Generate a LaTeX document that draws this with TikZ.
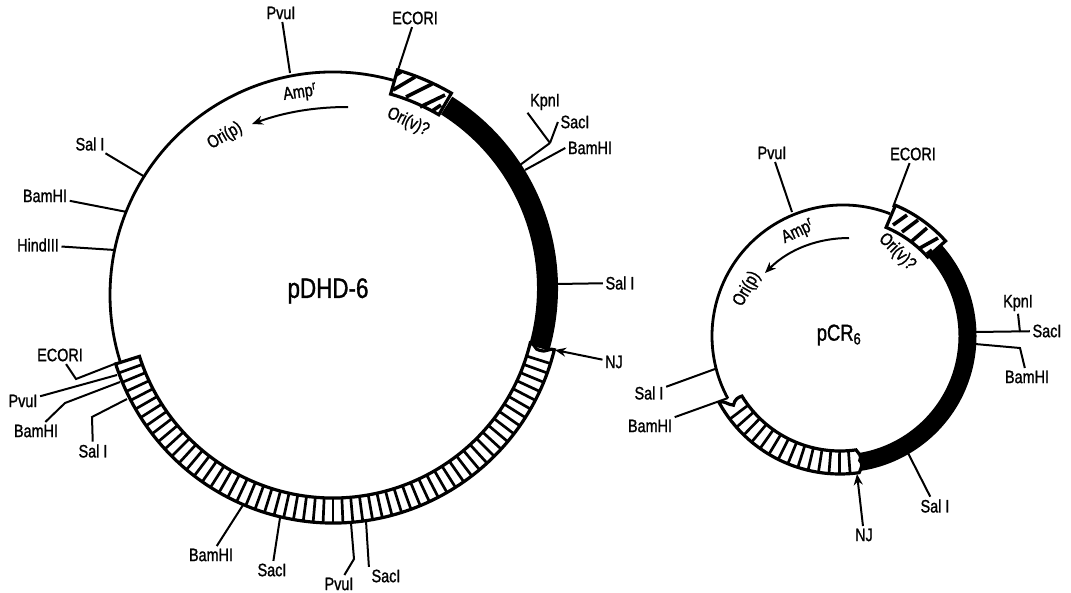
\documentclass[tikz,border=0pt]{standalone}
\usepackage{fontspec}
\setmainfont{Liberation Sans}[FakeStretch=0.8,FakeBold=1.2]
\usetikzlibrary{arrows.meta}
\tikzset{
  site/.style={inner sep=2.5pt,font=\fontsize{18}{18}\selectfont},
  oritext/.style={inner sep=1pt,font=\fontsize{18}{18}\selectfont},
  titletext/.style={inner sep=1pt},
  wire/.style={line width=2pt},
  ring/.style={line width=2.8pt},
  band/.style={line width=3.2pt,fill=white,line join=miter},
  rung/.style={line width=2.7pt},
  hatchline/.style={line width=3.6pt},
  pointer/.style={line width=2pt,-{Stealth[length=11pt,width=9pt]}}
}
\begin{document}
\begin{tikzpicture}[x=1pt,y=-1pt]
\useasboundingbox (0,0) rectangle (1071,592);
% large plasmid
\begin{scope}[shift={(333,295)}]
\draw[ring] (-74:223) arc[start angle=-74,end angle=-197.6,radius=223];
\end{scope}
\begin{scope}[shift={(331.5,288.3)}]
\draw[line width=21pt] (-57.8:216) arc[start angle=-57.8,end angle=16,radius=216];
\end{scope}
\begin{scope}[shift={(333,295)}]
% striped band, lower part
\draw[band] (162.4:203) arc[start angle=162.4,end angle=13.7,radius=203]
  .. controls (13.5:208) and (15.3:209) .. (15:214)
  .. controls (15.3:220) and (13.5:224) .. (13.9:228)
  arc[start angle=13.9,end angle=162.4,radius=228] -- cycle;
\foreach \a in {160,157.5,...,17} \draw[rung] (\a:203) -- (\a:228);
% hatched box at the top
\draw[band] (-74:209) arc[start angle=-74,end angle=-59.6,radius=209]
  -- (-59.6:234) arc[start angle=-59.6,end angle=-74,radius=234] -- cycle;
\end{scope}
\foreach \xa/\ya/\xb/\yb in {393/90/415/77,406/97/432/84,420/107/445/95,432/111/441/105,396/75/401/72}
  \draw[hatchline] (\xa,\ya) -- (\xb,\yb);
% small plasmid
\draw[ring] (843,336) ++(-69:131) arc[start angle=-69,end angle=-208.4,radius=131];
\begin{scope}[shift={(840,336)}]
\draw[line width=18pt,black] (-42:127.5) arc[start angle=-42,end angle=81,radius=127.5];
\draw[band] (148.5:115) arc[start angle=148.5,end angle=82,radius=115]
  .. controls (81:119) and (79.5:122) .. (81:126)
  .. controls (79.5:130) and (81:134) .. (82:138)
  arc[start angle=82,end angle=151,radius=138]
  .. controls (152:134) and (148:131) .. (147:127)
  .. controls (149:123) and (149:119) .. (148.5:115) -- cycle;
\foreach \a in {143,138.6,...,85} \draw[rung] (\a:115) -- (\a:138);
\draw[band] (-67:118) arc[start angle=-67,end angle=-42,radius=118]
  -- (-42:142) arc[start angle=-42,end angle=-67,radius=142] -- cycle;
\end{scope}
\foreach \xa/\ya/\xb/\yb in {893/225/907/215,902/232/918/220,912/241/927/228,920/248/938/238,927/254/932/250}
  \draw[hatchline] (\xa,\ya) -- (\xb,\yb);
% titles
\node[titletext,font=\fontsize{28}{28}\selectfont] (titleA) at (328,291) {pDHD-6};
\node[titletext,font=\fontsize{23}{23}\selectfont] (titleB) at (839,335) {pCR\textsubscript{6}};
% large plasmid, text on the ring
\node[oritext,rotate=8] (ampA) at (300,93) {Amp\textsuperscript{r}};
\node[oritext,rotate=30] (oripA) at (225,136) {Ori(p)};
\node[oritext,rotate=-25] (orivA) at (408,122) {Ori(v)?};
\coordinate (ampAs) at (348,107);
\coordinate (ampAe) at (252,124);
\draw[pointer] (ampAs) .. controls (315,107) and (285,112) .. (ampAe);
% small plasmid, text on the ring
\node[oritext,rotate=25] (ampB) at (798,232) {Amp\textsuperscript{r}};
\node[oritext,rotate=60] (oripB) at (747,289) {Ori(p)};
\node[oritext,rotate=-45] (orivB) at (897,252) {Ori(v)?};
\coordinate (ampBs) at (849,238);
\coordinate (ampBe) at (765,273);
\draw[pointer] (ampBs) .. controls (820,238) and (790,248) .. (ampBe);
% large plasmid, sites
\node[site] (pvuA) at (281,13) {PvuI};
\node[site] (ecoA) at (415,18) {ECORI};
\node[site] (kpnA) at (545,102) {KpnI};
\node[site] (sacA) at (575,122) {SacI};
\node[site] (bamA) at (590,148) {BamHI};
\node[site] (salA) at (620,283) {Sal I};
\node[site] (njA) at (614,362) {NJ};
\node[site] (salB) at (90,144) {Sal I};
\node[site] (bamB) at (45,196) {BamHI};
\node[site] (hinA) at (38,245) {HindIII};
\node[site] (ecoB) at (60,355) {ECORI};
\node[site] (pvuB) at (23,401) {PvuI};
\node[site] (bamC) at (36,431) {BamHI};
\node[site] (salC) at (93,451) {Sal I};
\node[site] (bamD) at (211,555) {BamHI};
\node[site] (sacB) at (272,570) {SacI};
\node[site] (pvuC) at (339,584) {PvuI};
\node[site] (sacC) at (386,576) {SacI};
\coordinate (pvuAe) at (290,73);
\coordinate (ecoAe) at (398,70);
\coordinate (kpnAe) at (550,143);
\coordinate (bamAj) at (520,165);
\coordinate (bamAe) at (525,170);
\coordinate (salAe) at (556,284);
\coordinate (njAe) at (555,350);
\coordinate (salBe) at (145,177);
\coordinate (bamBe) at (127,212);
\coordinate (hinAe) at (115,250);
\coordinate (ecoBb) at (76,379);
\coordinate (ecoBe) at (117,363);
\coordinate (pvuBe) at (117,375);
\coordinate (bamCb) at (65,403);
\coordinate (bamCe) at (120,382);
\coordinate (salCb) at (92,417);
\coordinate (salCe) at (127,399);
\coordinate (bamDe) at (243,505);
\coordinate (sacBe) at (280,518);
\coordinate (pvuCb) at (354,559);
\coordinate (pvuCe) at (351,523);
\coordinate (sacCe) at (366,521);
\draw[wire] (pvuA) -- (pvuAe);
\draw[wire] (ecoA) -- (ecoAe);
\draw[wire] (kpnA.south west) -- (kpnAe);
\draw[wire] (sacA.west) -- (kpnAe);
\draw[wire] (kpnAe) -- (bamAj);
\draw[wire] (bamA.west) -- (bamAe);
\draw[wire] (salA) -- (salAe);
\draw[pointer] (njA) -- (njAe);
\draw[wire] (salB) -- (salBe);
\draw[wire] (bamB) -- (bamBe);
\draw[wire] (hinA) -- (hinAe);
\draw[wire] (ecoB) -- (ecoBb) -- (ecoBe);
\draw[wire] (pvuB) -- (pvuBe);
\draw[wire] (bamC) -- (bamCb) -- (bamCe);
\draw[wire] (salC) -- (salCb) -- (salCe);
\draw[wire] (bamD) -- (bamDe);
\draw[wire] (sacB) -- (sacBe);
\draw[wire] (pvuC) -- (pvuCb) -- (pvuCe);
\draw[wire] (sacC.north west) -- (sacCe);
% small plasmid, sites
\node[site] (pvuD) at (772,153) {PvuI};
\node[site] (ecoC) at (913,154) {ECORI};
\node[site] (kpnB) at (1018,303) {KpnI};
\node[site] (sacD) at (1047,331) {SacI};
\node[site] (bamE) at (1027,377) {BamHI};
\node[site] (salD) at (649,393) {Sal I};
\node[site] (bamF) at (650,426) {BamHI};
\node[site] (salE) at (935,506) {Sal I};
\node[site] (njB) at (864,535) {NJ};
\coordinate (pvuDe) at (792,212);
\coordinate (ecoCe) at (893,207);
\coordinate (kpnBe) at (1020,332);
\coordinate (sacDe) at (975,332);
\coordinate (bamEb) at (1020,348);
\coordinate (bamEe) at (975,344);
\coordinate (salDe) at (715,369);
\coordinate (bamFe) at (728,398);
\coordinate (salEe) at (908,453);
\coordinate (njBe) at (857,474);
\draw[wire] (pvuD) -- (pvuDe);
\draw[wire] (ecoC) -- (ecoCe);
\draw[wire] (kpnB.south) -- (kpnBe);
\draw[wire] (sacD) -- (sacDe);
\draw[wire] (bamE) -- (bamEb) -- (bamEe);
\draw[wire] (salD) -- (salDe);
\draw[wire] (bamF) -- (bamFe);
\draw[wire] (salE) -- (salEe);
\draw[pointer] (njB) -- (njBe);
\end{tikzpicture}
\end{document}
